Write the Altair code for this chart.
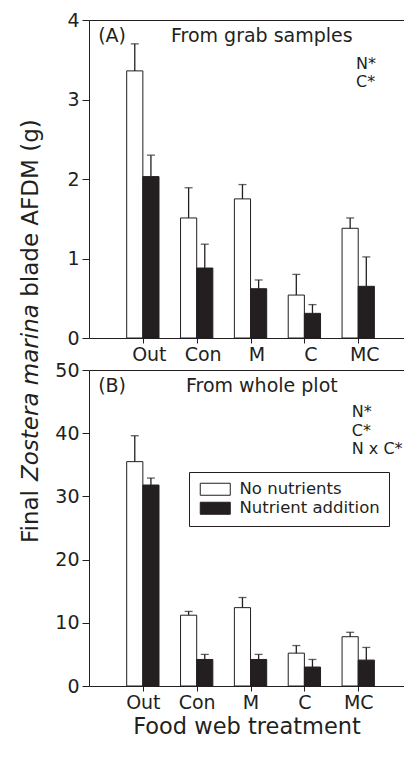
import altair as alt
import pandas as pd

FONT = "DejaVu Sans"
INK = "#231f20"

categories = ["Out", "Con", "M", "C", "MC"]
series = ["No nutrients", "Nutrient addition"]

# Panel A: from grab samples (g)
grab_none = [3.36, 1.51, 1.75, 0.54, 1.38]
grab_none_se = [0.34, 0.38, 0.18, 0.26, 0.13]
grab_nut = [2.03, 0.88, 0.62, 0.31, 0.65]
grab_nut_se = [0.27, 0.30, 0.11, 0.11, 0.37]

# Panel B: from whole plot (g)
plot_none = [35.5, 11.2, 12.4, 5.2, 7.8]
plot_none_se = [4.1, 0.6, 1.6, 1.2, 0.7]
plot_nut = [31.8, 4.2, 4.2, 3.0, 4.1]
plot_nut_se = [1.1, 0.8, 0.8, 1.2, 2.0]

y_ticks_a = [0, 1, 2, 3, 4]
y_ticks_b = [0, 10, 20, 30, 40, 50]


def make_df(none, none_se, nut, nut_se):
    rows = []
    for i, c in enumerate(categories):
        rows.append(dict(cat=c, idx=i + 1, series=series[0], mean=none[i], se=none_se[i]))
        rows.append(dict(cat=c, idx=i + 1, series=series[1], mean=nut[i], se=nut_se[i]))
    return pd.DataFrame(rows)


one = pd.DataFrame({"k": [0]})
label_expr = "[''," + ",".join("'%s'" % c for c in categories) + "][datum.value]"


def panel(df, ymax, yticks, letter, subtitle, stats, stats_x, ylab, x_title, label_offset,
          legend, height, extra=None):
    xscale = alt.Scale(domain=[0, 5.85], nice=False, zero=False)
    yscale = alt.Scale(domain=[0, ymax], nice=False, zero=True)
    yaxis = alt.Axis(
        orient="left", values=yticks, grid=False, tickSize=7, labelPadding=3, labelFlush=False,
        domainColor=INK, tickColor=INK, labelColor=INK, labelFont=FONT,
        labelFontSize=19, title=None,
    )

    def txt(text, x, y, size, align="left"):
        return alt.Chart(one).mark_text(
            text=text, align=align, baseline="alphabetic", font=FONT, fontSize=size, color=INK
        ).encode(
            x=alt.XDatum(x, type="quantitative", axis=None),
            y=alt.YDatum(y, type="quantitative", axis=yaxis),
        )

    base = alt.Chart(df).transform_calculate(
        x0="datum.idx + (datum.series === 'No nutrients' ? -0.3 : 0)",
        x1="datum.idx + (datum.series === 'No nutrients' ? 0 : 0.3)",
        xc="datum.idx + (datum.series === 'No nutrients' ? -0.15 : 0.15)",
        top="datum.mean + datum.se",
    )
    xaxis = alt.Axis(
        orient="bottom", values=[1, 2, 3, 4, 5], labelExpr=label_expr, grid=False,
        tickSize=5, labelPadding=2, labelOffset=label_offset, labelFlush=False,
        labelOverlap=False, domainColor=INK, tickColor=INK, labelColor=INK,
        labelFont=FONT, labelFontSize=19, title=x_title, titleFont=FONT,
        titleFontSize=22.5, titleFontWeight="normal", titleColor=INK, titlePadding=3,
    )
    bars = base.mark_bar(stroke=INK, strokeWidth=1).encode(
        x=alt.X("x0:Q", scale=xscale, axis=xaxis),
        x2="x1:Q",
        y=alt.Y("mean:Q", scale=yscale, axis=yaxis),
        y2=alt.Y2Datum(0),
        fill=alt.Fill("series:N", scale=alt.Scale(domain=series, range=["white", INK]), legend=legend),
    )
    rules = base.mark_rule(color=INK, strokeWidth=1.3).encode(
        x=alt.X("xc:Q", scale=xscale, axis=alt.Axis(orient="top", labels=False, ticks=False,
                                                   domain=True, grid=False, title=None,
                                                   domainColor=INK)),
        y=alt.Y("mean:Q", axis=yaxis),
        y2="top:Q",
    )
    caps = base.mark_tick(orient="horizontal", size=8, thickness=1.3, color=INK).encode(
        x=alt.X("xc:Q", axis=None),
        y=alt.Y("top:Q", axis=yaxis),
    )
    layers = [bars, rules, caps,
              txt(letter, 0.17, ylab, 19),
              txt(subtitle, 3.21, ylab, 19, align="center")]
    for s, sy in stats:
        layers.append(txt(s, stats_x, sy, 16))
    if extra:
        layers += extra
    return alt.layer(*layers).resolve_axis(x="independent").properties(width=315, height=height)


def vseg(text, ypx, italic=False):
    return alt.Chart(one).mark_text(
        text=text, angle=270, align="left", baseline="alphabetic", font=FONT,
        fontSize=23, fontStyle="italic" if italic else "normal", color=INK,
    ).encode(x=alt.value(-51), y=alt.value(ypx))


ytitle = [vseg("Final", 523), vseg("Zostera marina", 461, italic=True), vseg("blade AFDM (g)", 276.8)]

legend_b = alt.Legend(
    orient="none", legendX=100, legendY=102, title=None, fillColor="white",
    strokeColor=INK, padding=9, cornerRadius=0, symbolType="M-1,-1H4V1H-1Z",
    symbolSize=144, symbolStrokeColor=INK, symbolStrokeWidth=1, symbolOpacity=1,
    labelFont=FONT, labelFontSize=16.5, labelColor=INK, labelOffset=25, rowPadding=2,
)

panel_a = panel(
    make_df(grab_none, grab_none_se, grab_nut, grab_nut_se), 4, y_ticks_a,
    "(A)", "From grab samples", [("N*", 3.385), ("C*", 3.152)], 4.96, 3.72,
    None, 6, None, 318, extra=ytitle,
)
panel_b = panel(
    make_df(plot_none, plot_none_se, plot_nut, plot_nut_se), 50, y_ticks_b,
    "(B)", "From whole plot", [("N*", 42.5), ("C*", 39.6), ("N x C*", 36.7)], 4.88, 46.55,
    "Food web treatment", 0, legend_b, 316,
)

chart = alt.vconcat(panel_a, panel_b, spacing=32, bounds="flush").resolve_scale(
    fill="independent"
).properties(
    padding={"left": 12, "top": 3, "right": 0, "bottom": 0}, background="white"
).configure(font=FONT).configure_view(stroke=None)

chart.save("out.html", embed_options={"renderer": "svg", "actions": False})
